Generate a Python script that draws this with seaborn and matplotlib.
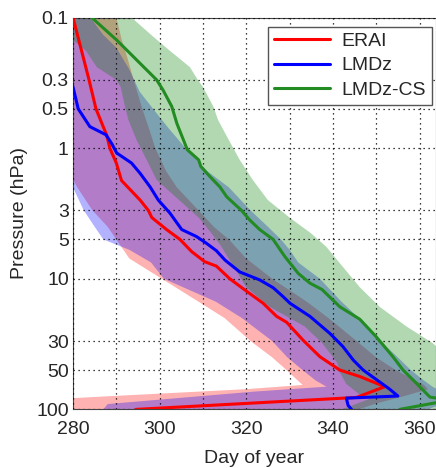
import matplotlib
matplotlib.use('agg')
import matplotlib.pyplot as plt
import seaborn as sns
import pandas as pd
import numpy as np

# ---- lines (pressure in hPa, day of year) ----
erai_p = [0.1, 0.3, 0.5, 0.8, 1, 1.3, 1.77, 2.5, 3, 3.4, 4.2, 5, 6.2, 7.4, 8, 10,
          12.2, 15.4, 19.4, 21.5, 29.5, 39.5, 50, 56, 67, 81, 100]
erai_day = [280, 283.7, 285.3, 287.8, 288.5, 290, 291.2, 295.5, 297.4, 298.2, 301.6, 304.7,
            307.4, 310.4, 313.1, 316.2, 319.7, 323.9, 327, 329.3, 333.1, 337, 341.6, 346.2,
            352, 345.4, 294.5]

lmdz_p = [0.1, 0.34, 0.5, 0.685, 0.79, 0.92, 1.09, 1.3, 1.56, 1.98, 2.5, 3.15, 4.2, 4.75,
          5.35, 6.1, 7.2, 8.87, 10.2, 11.7, 13.7, 15.4, 19.4, 26.2, 33, 41.9, 50, 59, 70,
          79, 82, 93, 100]
lmdz_day = [274, 280, 281.2, 283.9, 287.6, 288.9, 290.1, 293.5, 295.5, 297.8, 299.7, 302.4,
            305.1, 308.5, 310.8, 313.1, 315.1, 318.5, 323.1, 326.2, 328.5, 330.1, 334.7,
            339.3, 342.3, 344.7, 347, 350, 353.1, 355, 343.1, 343.5, 344.3]

cs_p = [0.1, 0.149, 0.3, 0.36, 0.48, 0.65, 1.03, 1.23, 1.38, 1.65, 1.98, 2.36, 3, 3.55,
        4.2, 5, 6.76, 9.1, 10.8, 12.1, 16.4, 20.4, 27.8, 39.7, 50, 63.2, 80.5, 85, 100]
cs_day = [284.3, 290.1, 299.3, 300.8, 302.8, 304, 306.4, 309, 309.5, 311.6, 313.9, 315.5,
          318.9, 320.8, 323.1, 326.2, 328.9, 332, 334.7, 337.5, 341.6, 346.2, 350, 353.9,
          356.2, 359.3, 362.4, 367, 355.4]

# ---- spread bands (pressure, earliest day, latest day) ----
erai_band_p = [0.1, 0.15, 0.2, 0.3, 0.5, 0.7, 1, 1.5, 2, 3, 4, 5, 7, 10, 15, 20, 30, 40,
               50, 65, 70, 80, 90, 100]
erai_lo = [262, 263, 265, 267, 270, 272, 275, 279, 281, 284.5, 288, 290, 293, 300.5, 309,
           315, 321, 326, 329.3, 333, 320, 286, 257, 230]
erai_hi = [290, 291.3, 292.5, 294, 296, 297.5, 299, 301.5, 304, 309, 312.5, 316, 320, 326,
           334, 339, 345.5, 350, 354.5, 361, 362, 356, 350, 346]

lmdz_band_p = [0.1, 0.136, 0.17, 0.25, 0.37, 0.5, 0.7, 1, 1.5, 2, 3, 4, 5, 6, 7.5, 10, 15,
               20, 30, 40, 50, 60, 67, 73, 82, 91, 100]
lmdz_lo = [258, 259, 260, 262, 264, 266, 268, 271, 276, 280, 282.5, 285, 287, 293, 298,
           301, 313, 319, 326, 329.5, 333, 336, 338.5, 322, 304, 288, 287]
lmdz_hi = [284, 287, 290, 293, 295.4, 298.5, 302, 306, 311, 316, 321, 325, 328, 330, 332,
           337, 342, 346, 351, 355, 358, 361, 363, 365, 367, 365, 362]

cs_band_p = [0.1, 0.14, 0.18, 0.24, 0.3, 0.34, 0.48, 0.61, 0.87, 1.23, 1.75, 2.5, 3.4, 4.5,
             5.7, 7.6, 11.6, 16.4, 23.2, 31, 44, 52, 64, 77, 83, 100]
cs_lo = [270, 279, 283, 285.5, 290, 291, 292, 292.8, 294.7, 297, 299.3, 304.5, 309, 312,
         314.3, 316.6, 320, 325.4, 333.5, 337.5, 341, 341.6, 343.1, 346.2, 348.5, 342]
cs_hi = [293.5, 298.5, 302.4, 307, 308.8, 310, 312.4, 313.5, 316, 318.5, 321.5, 325,
         330, 335, 338.5, 341.6, 346.2, 350.8, 357, 363, 368, 370, 372, 374, 375, 375]

labels = ['ERAI', 'LMDz', 'LMDz-CS']
colors = ['#ff0000', '#0000ff', '#228b22']
yticks = [0.1, 0.3, 0.5, 1, 3, 5, 10, 30, 50, 100]
ytick_labels = ['0.1', '0.3', '0.5', '1', '3', '5', '10', '30', '50', '100']

sns.set_style('white')
plt.rcParams['font.family'] = ['Liberation Sans', 'DejaVu Sans']

fig = plt.figure(figsize=(4.36, 4.68), dpi=100)
ax = fig.add_axes([73 / 436, 58.6 / 468, 363 / 436, 391.9 / 468])

bands = [(erai_band_p, erai_lo, erai_hi), (lmdz_band_p, lmdz_lo, lmdz_hi),
         (cs_band_p, cs_lo, cs_hi)]
for (bp, lo, hi), c in zip(bands, ['#ff0000', '#0000ff', '#008000']):
    ax.fill_betweenx(bp, lo, hi, color=c, alpha=0.3, linewidth=0, zorder=1)

df = pd.concat([
    pd.DataFrame({'day': erai_day, 'p': erai_p, 'model': labels[0]}),
    pd.DataFrame({'day': lmdz_day, 'p': lmdz_p, 'model': labels[1]}),
    pd.DataFrame({'day': cs_day, 'p': cs_p, 'model': labels[2]}),
])
sns.lineplot(data=df, x='day', y='p', hue='model', palette=dict(zip(labels, colors)),
             sort=False, estimator=None, linewidth=2.2, ax=ax, zorder=3)

ax.set_yscale('log')
ax.set_ylim(100, 0.1)
ax.set_xlim(280, 363.8)
ax.set_yticks(yticks)
ax.set_yticklabels(ytick_labels)
ax.yaxis.set_minor_locator(matplotlib.ticker.NullLocator())
ax.set_xticks([280, 300, 320, 340, 360])
ax.set_xticks(np.arange(290, 361, 20), minor=True)
ax.grid(True, which='both', linestyle=(0, (1, 3)), color='black', linewidth=0.9, zorder=2)
ax.set_axisbelow(False)
ax.tick_params(axis='both', which='both', direction='in', length=3, labelsize=14)
ax.tick_params(axis='x', pad=8)
ax.tick_params(axis='y', pad=3)
for s in ax.spines.values():
    s.set_color('#444444')
    s.set_linewidth(0.8)

ax.set_xlabel('Day of year', fontsize=14, labelpad=9)
ax.set_ylabel('Pressure (hPa)', fontsize=14, labelpad=6)

handles, _ = ax.get_legend_handles_labels()
leg = ax.legend(handles, labels, loc='upper right', bbox_to_anchor=(0.989, 0.977),
                fontsize=14, frameon=True, fancybox=False, edgecolor='#555555',
                framealpha=1, handlelength=2.9, borderpad=0.3, labelspacing=0.35,
                handletextpad=0.6, borderaxespad=0)
for ln in leg.get_lines():
    ln.set_linewidth(2.2)

fig.savefig('out.png', dpi=100)
